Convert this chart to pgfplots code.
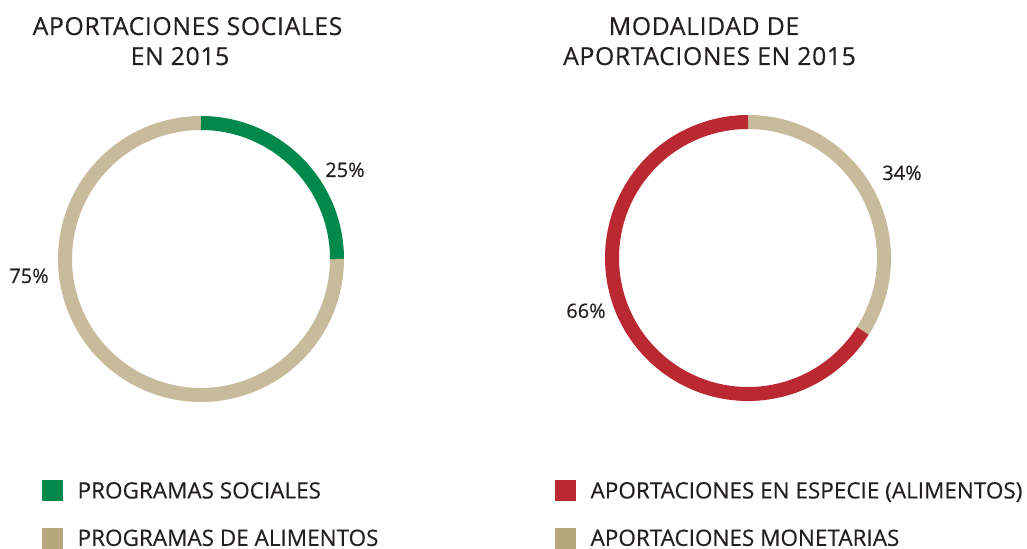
\documentclass[border=0pt]{standalone}
\usepackage{pgfplots}
\pgfplotsset{compat=1.18}
\usepackage{fontspec}
\setmainfont{Open Sans}[FakeBold=0.35]
\newfontfamily\tf{Open Sans}[FakeBold=0.35]
\newfontfamily\tft{Open Sans}[FakeBold=0.35,LetterSpace=2.4]
\definecolor{pgreen}{HTML}{00894A}
\definecolor{ptan}{HTML}{C8BB9B}
\definecolor{ltan}{HTML}{B8A67C}
\definecolor{pred}{HTML}{BA2832}
\definecolor{ptext}{HTML}{231F20}
\pgfplotsset{donut/.style={x=1bp,y=1bp,xmin=-150,xmax=150,ymin=-150,ymax=150,
  hide axis,clip=false,anchor=origin,samples=150,
  legend cell align=left,
  legend style={draw=none,fill=none,inner sep=0pt,column sep=15bp,row sep=27bp,anchor=north west,
    font=\tf\fontsize{22.5bp}{27bp}\selectfont\color{ptext},
    nodes={inner sep=0pt,text height=16.1bp,text depth=0bp}}}}
\tikzset{pct/.style={font=\tf\fontsize{20bp}{24bp}\selectfont,text=ptext,anchor=base,inner sep=0pt},
  ttl/.style={font=\tft\fontsize{24.8bp}{29bp}\selectfont,text=ptext,anchor=base,inner sep=0pt}}
\begin{document}
\begin{tikzpicture}
\useasboundingbox (0,0) rectangle (1027bp,549bp);
\node[ttl] at (187.5bp,514bp) {APORTACIONES SOCIALES};
\node[ttl] at (180bp,484bp) {EN 2015};
\node[ttl] at (704bp,514bp) {MODALIDAD DE};
\node[ttl] at (709.5bp,484bp) {APORTACIONES EN 2015};
% left donut: 25% programas sociales, 75% programas de alimentos
\begin{axis}[donut,at={(201bp,290bp)},legend style={at={(axis cs:-159,-221)}}]
\addlegendimage{legend image code/.code={\fill[pgreen] (0bp,-10bp) rectangle (20bp,10bp);}}
\addlegendentry{PROGRAMAS SOCIALES}
\addlegendimage{legend image code/.code={\fill[ltan] (0bp,-10bp) rectangle (20bp,10bp);}}
\addlegendentry{PROGRAMAS DE ALIMENTOS}
\addplot[forget plot,ptan,line width=14bp,domain=0:-270] ({136*cos(x)},{136*sin(x)});
\addplot[forget plot,pgreen,line width=14bp,domain=90:0] ({136*cos(x)},{136*sin(x)});
\node[pct] at (axis cs:144,82) {25\%};
\node[pct] at (axis cs:-172,-24) {75\%};
\end{axis}
% right donut: 66% especie, 34% monetarias
\begin{axis}[donut,at={(748bp,291bp)},legend style={at={(axis cs:-193,-222)}}]
\addlegendimage{legend image code/.code={\fill[pred] (0bp,-10bp) rectangle (20bp,10bp);}}
\addlegendentry{APORTACIONES EN ESPECIE (ALIMENTOS)}
\addlegendimage{legend image code/.code={\fill[ltan] (0bp,-10bp) rectangle (20bp,10bp);}}
\addlegendentry{APORTACIONES MONETARIAS}
\addplot[forget plot,ptan,line width=14bp,domain=90:-32.4] ({136*cos(x)},{136*sin(x)});
\addplot[forget plot,pred,line width=14bp,domain=90:327.6] ({136*cos(x)},{136*sin(x)});
\node[pct] at (axis cs:154,78) {34\%};
\node[pct] at (axis cs:-162,-60) {66\%};
\end{axis}
\end{tikzpicture}
\end{document}
